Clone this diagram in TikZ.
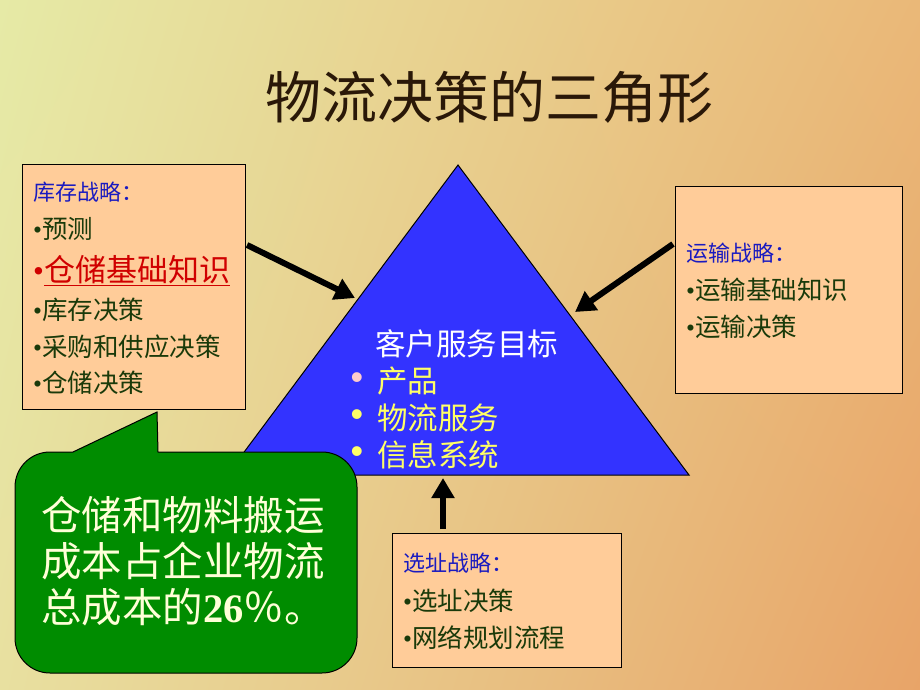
\documentclass[tikz,border=0pt]{standalone}
\usepackage{fontspec}
\setmainfont{Noto Sans CJK SC}
\newfontfamily\latinfont{Liberation Serif}
\newfontfamily\latinsans{Liberation Sans}
\newcommand{\bul}{{\latinfont •}}
\usetikzlibrary{arrows.meta,shadings}
\definecolor{bgTL}{HTML}{E6EAA6}
\definecolor{bgTR}{HTML}{EAB878}
\definecolor{bgBL}{HTML}{E8E0A0}
\definecolor{bgBR}{HTML}{E8A468}
\definecolor{boxfill}{HTML}{FFCC99}
\definecolor{headblue}{HTML}{1A1AC0}
\definecolor{itemgreen}{HTML}{1A3A0A}
\definecolor{itemred}{HTML}{D00000}
\definecolor{triblue}{HTML}{3333FF}
\definecolor{calloutgreen}{HTML}{008C00}
\definecolor{callouttext}{HTML}{FFFFD8}
\definecolor{tritext}{HTML}{FFFF66}
\definecolor{titlecol}{HTML}{2A1808}
\tikzset{
  box/.style={draw=black, line width=1pt, fill=boxfill, inner sep=0pt},
  head/.style={anchor=base west, inner sep=0pt, text=headblue, font=\fontsize{22}{26}\selectfont},
  item/.style={anchor=base west, inner sep=0pt, text=itemgreen, font=\fontsize{25.5}{28}\selectfont},
  bigarrow/.style={line width=6pt, black, -{Triangle[length=20pt,width=22pt]}, shorten >=0pt},
  tritxt/.style={anchor=base west, inner sep=0pt, font=\fontsize{30.5}{33}\selectfont},
  tribul/.style={inner sep=0pt, font=\latinsans\fontsize{36}{40}\selectfont},
}
\begin{document}
\begin{tikzpicture}[x=1pt,y=-1pt]
\useasboundingbox (0,0) rectangle (920,690);
\shade[upper left=bgTL, upper right=bgTR, lower left=bgBL, lower right=bgBR] (0,0) rectangle (920,690);

% title
\node[inner sep=0pt, text=titlecol, font=\fontsize{56}{60}\selectfont] (title) at (489,97) {物流决策的三角形};

% triangle
\coordinate (tA) at (458,165);
\coordinate (tL) at (227,475);
\coordinate (tR) at (689,475);
\draw[fill=triblue, line width=1pt] (tA) -- (tR) -- (tL) -- cycle;
\node[tritxt, text=white] (goal) at (375,355) {客户服务目标};
\node[tribul, text=pink!80!white] (b1) at (357,381) {•};
\node[tritxt, text=tritext] (p1) at (377,392) {产品};
\node[tribul, text=tritext] (b2) at (357,418) {•};
\node[tritxt, text=tritext] (p2) at (377,429) {物流服务};
\node[tribul, text=tritext] (b3) at (357,455) {•};
\node[tritxt, text=tritext] (p3) at (377,466) {信息系统};

% left box
\node[box, minimum width=223pt, minimum height=245pt] (kucun) at (133.5,286.5) {};
\node[head] (k0) at (33,200) {库存战略：};
\node[item] (k1) at (33,238) {\bul 预测};
\node[anchor=base west, inner sep=0pt, text=itemred, font=\fontsize{31}{34}\selectfont] (k2) at (33,281) {\bul\underline{仓储基础知识}};
\node[item] (k3) at (33,319) {\bul 库存决策};
\node[item] (k4) at (33,356) {\bul 采购和供应决策};
\node[item] (k5) at (33,392) {\bul 仓储决策};

% right box
\node[box, minimum width=227pt, minimum height=207pt] (yunshu) at (788.5,289.5) {};
\node[head] (y0) at (686,261) {运输战略：};
\node[item] (y1) at (686,299) {\bul 运输基础知识};
\node[item] (y2) at (686,336) {\bul 运输决策};

% bottom box
\node[box, minimum width=229pt, minimum height=134pt] (xuanzhi) at (506.5,600) {};
\node[head] (x0) at (403,571) {选址战略：};
\node[item] (x1) at (403,610) {\bul 选址决策};
\node[item] (x2) at (403,647) {\bul 网络规划流程};

% arrows
\coordinate (a1s) at (247,245);
\coordinate (a1e) at (355,298);
\coordinate (a2s) at (673,244);
\coordinate (a2e) at (575,312);
\coordinate (a3s) at (443,529);
\coordinate (a3e) at (443,478);
\draw[bigarrow] (a1s) -- (a1e);
\draw[bigarrow] (a2s) -- (a2e);
\draw[bigarrow] (a3s) -- (a3e);

% callout
\draw[fill=calloutgreen, line width=1pt]
  (73,452) -- (157,412) -- (158,452) -- (322,452)
  arc[start angle=-90, end angle=0, radius=35] -- (357,638)
  arc[start angle=0, end angle=90, radius=35] -- (50,673)
  arc[start angle=90, end angle=180, radius=35] -- (15,487)
  arc[start angle=180, end angle=270, radius=35] -- cycle;
\node[anchor=north west, inner sep=0pt, align=left, text=callouttext, font=\fontsize{40.5}{46}\selectfont] (note) at (41,496) {仓储和物料搬运\\成本占企业物流\\总成本的{\latinfont\bfseries 26}％。};
\end{tikzpicture}
\end{document}
